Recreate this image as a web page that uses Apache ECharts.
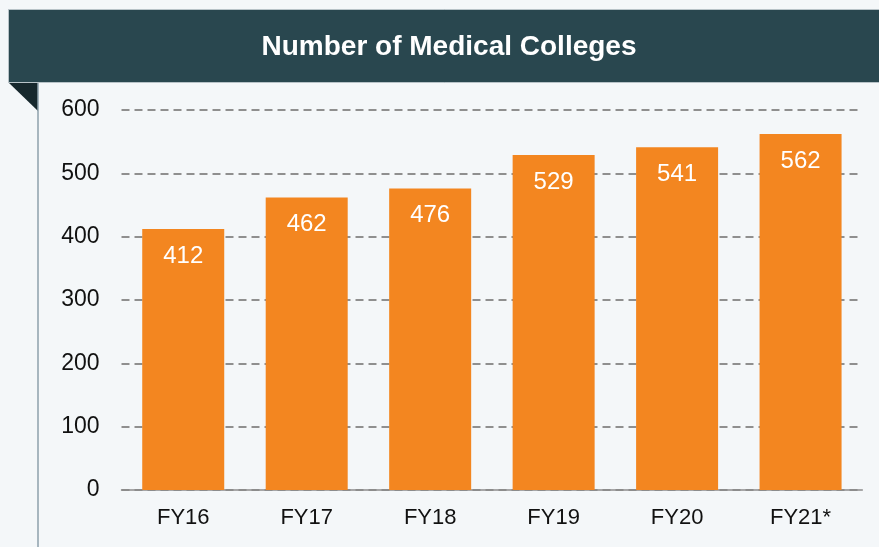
<!DOCTYPE html>
<html>
<head>
    <meta charset="utf-8">
    <script src="https://cdn.jsdelivr.net/npm/echarts@6/dist/echarts.min.js"></script>
    <style>
        html, body {margin: 0; padding: 0; background: #f4f7f9;}
    </style>
</head>
<body>
<div id="main" style="width: 879px; height: 547px"></div>
<script type="text/javascript">
    var years = ['FY16', 'FY17', 'FY18', 'FY19', 'FY20', 'FY21*'];
    var colleges = [412, 462, 476, 529, 541, 562];
    var chartTitle = 'Number of Medical Colleges';

    var font = 'Arial, "Liberation Sans", sans-serif';
    var myChart = echarts.init(document.getElementById('main'));
    var option = {
        backgroundColor: '#f4f7f9',
        animation: false,
        grid: {left: 121.5, right: 16.7, top: 110, bottom: 57},
        graphic: [
            // header band
            {type: 'rect', shape: {x: 8.5, y: 9.5, width: 872, height: 73},
                style: {fill: '#29474f', stroke: '#b8c3c8', lineWidth: 1}},
            // folded corner
            {type: 'polygon', shape: {points: [[9, 83], [38, 83], [38, 111]]},
                style: {fill: '#17282d'}},
            // left border
            {type: 'line', shape: {x1: 38, y1: 83, x2: 38, y2: 547},
                style: {stroke: '#8ea1ab', lineWidth: 1.5}},
            {type: 'text', x: 449, y: 47,
                style: {text: chartTitle, fill: '#ffffff', font: 'bold 28px ' + font,
                    textAlign: 'center', textVerticalAlign: 'middle'}}
        ],
        xAxis: {
            type: 'category', data: years,
            axisLine: {lineStyle: {color: '#8c8c8c', width: 1.5}},
            axisTick: {length: 6, lineStyle: {color: '#8c8c8c', width: 1.5}},
            axisLabel: {color: '#111', fontSize: 22, fontFamily: font, margin: 17}
        },
        yAxis: {
            type: 'value', min: 0, max: 600, interval: 100,
            axisLine: {show: false}, axisTick: {show: false},
            axisLabel: {color: '#111', fontSize: 23, fontFamily: font, margin: 22},
            splitLine: {lineStyle: {color: '#8f8f8f', width: 2, type: [8, 5]}}
        },
        series: [{
            type: 'bar', data: colleges, barWidth: 82,
            itemStyle: {color: '#f38620'},
            label: {show: true, position: 'insideTop', distance: 15,
                color: '#ffffff', fontSize: 24, fontFamily: font}
        }]
    };
    myChart.setOption(option);
</script>
</body>
</html>
